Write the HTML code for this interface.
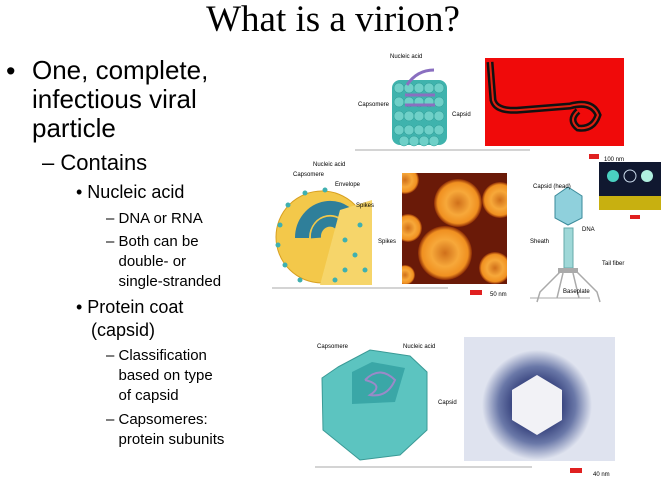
<!DOCTYPE html>
<html><head><meta charset="utf-8"><style>
body{margin:0;width:666px;height:489px;background:#fff;position:relative;overflow:hidden;font-family:"Liberation Sans",sans-serif;color:#000}
.t{position:absolute;white-space:nowrap}
h1{position:absolute;left:0;width:666px;top:-2px;margin:0;text-align:center;font-family:"Liberation Serif",serif;font-weight:normal;font-size:37px}
</style></head><body>
<h1>What is a virion?</h1>
<div>
<div class="t" style="left:6px;top:56px;font-size:27px;line-height:30px">•</div>
<div class="t" style="left:32px;top:56px;font-size:26px;line-height:29px">One, complete,<br>infectious viral<br>particle</div>
<div class="t" style="left:42px;top:150px;font-size:22px">– Contains</div>
<div class="t" style="left:76px;top:182px;font-size:18px">• Nucleic acid</div>
<div class="t" style="left:106px;top:210px;font-size:15px">– DNA or RNA</div>
<div class="t" style="left:106px;top:232px;font-size:15px;line-height:20px">– Both can be<br>&nbsp;&nbsp;&nbsp;double- or<br>&nbsp;&nbsp;&nbsp;single-stranded</div>
<div class="t" style="left:76px;top:296px;font-size:18px;line-height:23px">• Protein coat<br>&nbsp;&nbsp;&nbsp;(capsid)</div>
<div class="t" style="left:106px;top:346px;font-size:15px;line-height:20px">– Classification<br>&nbsp;&nbsp;&nbsp;based on type<br>&nbsp;&nbsp;&nbsp;of capsid</div>
<div class="t" style="left:106px;top:410px;font-size:15px;line-height:20px">– Capsomeres:<br>&nbsp;&nbsp;&nbsp;protein subunits</div>
</div>
<svg width="666" height="489" style="position:absolute;left:0;top:0">
<defs>
<radialGradient id="halo"><stop offset="0.45" stop-color="#3a4680"/><stop offset="0.7" stop-color="#6a78a8"/><stop offset="1" stop-color="#dfe3ef"/></radialGradient>
<radialGradient id="ring"><stop offset="0" stop-color="#d0701a"/><stop offset="0.5" stop-color="#f7a83a"/><stop offset="0.85" stop-color="#f09020"/><stop offset="1" stop-color="#8a2a05"/></radialGradient>
<clipPath id="oc"><rect x="402" y="173" width="105" height="111"/></clipPath>
</defs>
<!-- helical -->
<g>
<line x1="355" y1="150" x2="530" y2="150" stroke="#aaa"/>
<rect x="392" y="80" width="55" height="65" rx="8" fill="#3fb3ad"/>
<g fill="#6fd0c8" stroke="#2a9a94" stroke-width="0.5">
<circle cx="399" cy="88" r="5"/><circle cx="409" cy="88" r="5"/><circle cx="419" cy="88" r="5"/><circle cx="429" cy="88" r="5"/><circle cx="439" cy="88" r="5"/>
<circle cx="399" cy="102" r="5"/><circle cx="409" cy="102" r="5"/><circle cx="419" cy="102" r="5"/><circle cx="429" cy="102" r="5"/><circle cx="439" cy="102" r="5"/>
<circle cx="399" cy="116" r="5"/><circle cx="409" cy="116" r="5"/><circle cx="419" cy="116" r="5"/><circle cx="429" cy="116" r="5"/><circle cx="439" cy="116" r="5"/>
<circle cx="399" cy="130" r="5"/><circle cx="409" cy="130" r="5"/><circle cx="419" cy="130" r="5"/><circle cx="429" cy="130" r="5"/><circle cx="439" cy="130" r="5"/>
<circle cx="404" cy="141" r="5"/><circle cx="414" cy="141" r="5"/><circle cx="424" cy="141" r="5"/><circle cx="434" cy="141" r="5"/>
</g>
<path d="M407 85 q10 -15 27 -15 M405 95 h30 M405 105 h30" stroke="#8a6fc0" stroke-width="3" fill="none"/>
</g>
<g>
<rect x="485" y="58" width="139" height="88" fill="#f00a0a"/>
<path d="M490 62 L493 100 Q496 112 520 110 L570 106 Q592 100 598 115 Q593 130 578 128 Q568 120 578 111" stroke="#111" stroke-width="7" fill="none"/>
<path d="M490 62 L493 100 Q496 112 520 110 L570 106 Q592 100 598 115 Q593 130 578 128 Q568 120 578 111" stroke="#e02010" stroke-width="2" fill="none"/>
</g>
<!-- enveloped -->
<g>
<line x1="272" y1="288" x2="448" y2="288" stroke="#aaa"/>
<circle cx="322" cy="237" r="46" fill="#f3c84a" stroke="#d8a020"/>
<path d="M330 238 m-28 0 a28 30 0 1 1 40 27" fill="none" stroke="#2f7f9a" stroke-width="14"/>
<path d="M330 238 m-14 0 a14 15 0 1 1 18 13" fill="none" stroke="#2f7f9a" stroke-width="10"/>
<polygon points="340,210 372,200 372,285 320,285" fill="#f6d56a"/>
<g fill="#3fb0b0"><circle cx="280" cy="225" r="2.5"/><circle cx="278" cy="245" r="2.5"/><circle cx="285" cy="265" r="2.5"/><circle cx="300" cy="280" r="2.5"/><circle cx="288" cy="205" r="2.5"/><circle cx="305" cy="193" r="2.5"/><circle cx="325" cy="190" r="2.5"/><circle cx="345" cy="240" r="2.5"/><circle cx="355" cy="255" r="2.5"/><circle cx="345" cy="270" r="2.5"/><circle cx="360" cy="225" r="2.5"/><circle cx="335" cy="280" r="2.5"/><circle cx="365" cy="270" r="2.5"/></g>
</g>
<g clip-path="url(#oc)">
<rect x="402" y="173" width="105" height="111" fill="#6a1a08"/>
<circle cx="458" cy="203" r="24" fill="url(#ring)"/>
<circle cx="405" cy="180" r="14" fill="url(#ring)"/>
<circle cx="500" cy="200" r="18" fill="url(#ring)"/>
<circle cx="445" cy="253" r="27" fill="url(#ring)"/>
<circle cx="408" cy="228" r="14" fill="url(#ring)"/>
<circle cx="495" cy="268" r="16" fill="url(#ring)"/>
<circle cx="405" cy="275" r="10" fill="url(#ring)"/>
</g>
<g>
<line x1="530" y1="298" x2="590" y2="298" stroke="#aaa"/>
<polygon points="568,187 582,196 582,218 568,225 555,218 555,196" fill="#8fd0dc" stroke="#3a8a9a"/>
<rect x="564" y="228" width="9" height="40" fill="#9fd8d8" stroke="#6aa"/>
<rect x="558" y="268" width="20" height="5" fill="#aaa"/>
<path d="M560 272 l-20 20 l-3 10 M577 272 l20 20 l3 10 M563 273 l-6 25 M573 273 l6 25" stroke="#aaa" stroke-width="1.5" fill="none"/>
</g>
<g>
<rect x="599" y="162" width="62" height="48" fill="#101830"/>
<circle cx="613" cy="176" r="6" fill="#4ad0c0"/><circle cx="630" cy="176" r="6" fill="none" stroke="#cde"/><circle cx="647" cy="176" r="6" fill="#b0f0e0"/>
<rect x="599" y="196" width="62" height="14" fill="#c8b010"/>
</g>
<!-- icosahedral -->
<g>
<line x1="315" y1="467" x2="532" y2="467" stroke="#aaa"/>
<polygon points="338,367 370,350 410,356 427,372 427,430 400,455 360,460 323,430 322,378" fill="#5cc4c0" stroke="#3a9a96"/>
<polygon points="352,372 372,362 405,368 395,402 352,404" fill="#3aa7a7"/>
<path d="M365 380 q15 -15 30 0 q-8 18 -25 15 q15 -10 -5 -15" fill="none" stroke="#9a8ac8" stroke-width="2"/>
</g>
<g>
<rect x="464" y="337" width="151" height="124" fill="#dfe3ef"/>
<circle cx="537" cy="405" r="55" fill="url(#halo)"/>
<polygon points="537,375 562,390 562,420 537,435 512,420 512,390" fill="#f2f2f6"/>
</g>
<g font-family="Liberation Sans" font-size="6" fill="#000">
<text x="390" y="58">Nucleic acid</text><text x="358" y="106">Capsomere</text><text x="452" y="116">Capsid</text>
<text x="313" y="166">Nucleic acid</text><text x="293" y="176">Capsomere</text><text x="335" y="186">Envelope</text><text x="356" y="207">Spikes</text><text x="378" y="243">Spikes</text>
<text x="533" y="188">Capsid (head)</text><text x="582" y="231">DNA</text><text x="530" y="243">Sheath</text><text x="602" y="265">Tail fiber</text><text x="563" y="293">Baseplate</text>
<text x="317" y="348">Capsomere</text><text x="403" y="348">Nucleic acid</text><text x="438" y="404">Capsid</text>
<text x="604" y="161">100 nm</text><text x="490" y="296">50 nm</text><text x="593" y="476">40 nm</text>
</g>
<g fill="#e02020"><rect x="589" y="154" width="10" height="5"/><rect x="470" y="290" width="12" height="5"/><rect x="570" y="468" width="12" height="5"/><rect x="630" y="215" width="10" height="4"/></g>
</svg>
</body></html>
